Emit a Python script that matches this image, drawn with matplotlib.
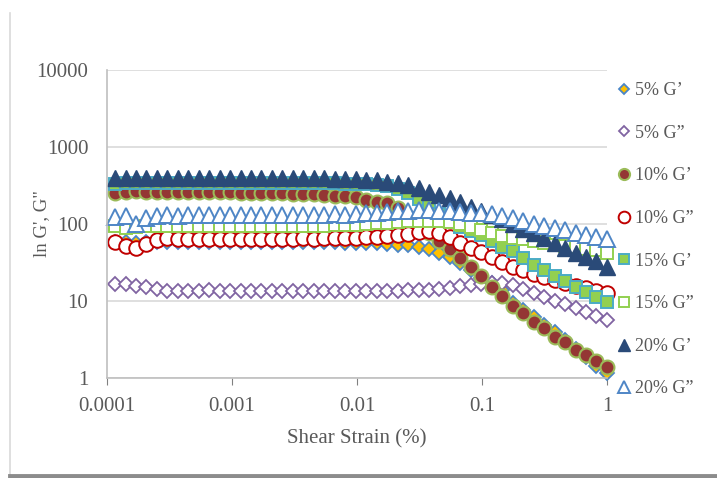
import matplotlib
matplotlib.use("Agg")
import matplotlib.pyplot as plt
from matplotlib.lines import Line2D

plt.rcParams['font.family'] = ['Liberation Serif', 'DejaVu Serif']

strain = [1.16e-4, 1.41e-4, 1.71e-4, 2.07e-4, 2.51e-4, 3.04e-4, 3.68e-4, 4.47e-4,
          5.42e-4, 6.57e-4, 7.96e-4, 9.66e-4, 1.17e-3, 1.42e-3, 1.72e-3, 2.09e-3,
          2.53e-3, 3.07e-3, 3.72e-3, 4.52e-3, 5.48e-3, 6.64e-3, 8.05e-3, 9.77e-3,
          0.0119, 0.0144, 0.0174, 0.0211, 0.0256, 0.0311, 0.0377, 0.0457,
          0.0554, 0.0672, 0.0815, 0.0988, 0.120, 0.145, 0.176, 0.214,
          0.259, 0.314, 0.381, 0.462, 0.560, 0.679, 0.824, 1.0]

g5_p = [58, 59, 57, 58, 59, 58, 58, 59, 58, 58, 59, 58, 58, 58, 58, 58,
        58, 58, 58, 58, 58, 58, 57, 57, 57, 56, 55, 54, 53, 50, 47, 42,
        37, 31, 25, 20, 17, 14, 9.5, 7.6, 6.2, 4.9, 3.9, 3.1, 2.4, 1.9, 1.45, 1.15]

g5_pp = [16.5, 16.8, 15.8, 15.0, 14.2, 13.6, 13.4, 13.6, 13.5, 13.7, 13.5, 13.6, 13.5, 13.6, 13.5, 13.6,
         13.5, 13.6, 13.5, 13.6, 13.5, 13.6, 13.5, 13.6, 13.5, 13.6, 13.5, 13.6, 13.7, 13.8, 14.0, 14.3,
         14.8, 15.5, 16.2, 16.8, 17.2, 17.0, 16.0, 14.3, 12.7, 11.2, 10.1, 9.1, 8.2, 7.3, 6.4, 5.7]

g10_p = [255, 262, 265, 262, 260, 263, 262, 260, 262, 258, 260, 257, 255, 255, 253, 250,
         250, 248, 245, 242, 238, 233, 228, 222, 205, 193, 185, 160, 125, 98, 76, 60,
         47, 36, 28, 21, 15, 11.5, 8.6, 7.0, 5.4, 4.4, 3.4, 2.9, 2.3, 2.0, 1.65, 1.4]

g10_pp = [58, 52, 49, 55, 62, 65, 63, 64, 63, 64, 63, 64, 64, 63, 64, 64,
          64, 64, 65, 64, 65, 65, 65, 66, 67, 68, 70, 72, 75, 78, 80, 76,
          68, 57, 49, 43, 37, 32, 28, 25, 22.5, 20.5, 18.5, 17, 15.7, 14.6, 13.6, 12.8]

g15_p = [330, 340, 342, 338, 340, 342, 340, 341, 340, 342, 340, 341, 340, 340, 339, 340,
         339, 340, 338, 338, 337, 336, 335, 333, 330, 322, 310, 288, 250, 210, 170, 135,
         110, 92, 82, 72, 60, 51, 44, 36, 29, 25, 21, 18, 15.3, 13.2, 11.4, 9.8]

g15_pp = [95, 90, 92, 93, 94, 94, 93, 94, 94, 93, 94, 94, 94, 94, 94, 94,
          94, 94, 95, 95, 95, 96, 97, 98, 100, 102, 104, 106, 108, 110, 110, 108,
          105, 100, 92, 84, 76, 70, 66, 63, 60, 57, 54, 52, 50, 48, 46, 42]

g20_p = [395, 392, 395, 390, 394, 396, 392, 395, 393, 396, 394, 392, 395, 393, 392, 394,
         392, 391, 392, 390, 391, 389, 388, 385, 378, 368, 355, 340, 320, 295, 262, 238,
         215, 192, 168, 148, 132, 115, 100, 87, 76, 66, 57, 49, 42, 37, 33, 28]

g20_pp = [122, 128, 100, 120, 126, 130, 128, 131, 129, 132, 130, 129, 131, 130, 132, 130,
          131, 132, 130, 132, 131, 133, 132, 135, 138, 141, 144, 147, 149, 150, 150, 149,
          147, 144, 141, 137, 133, 128, 118, 109, 101, 94, 88, 83, 77, 72, 67, 63]

labels = ["5% G\u2019", "5% G\u201d", "10% G\u2019", "10% G\u201d",
          "15% G\u2019", "15% G\u201d", "20% G\u2019", "20% G\u201d"]
series = [g5_p, g5_pp, g10_p, g10_pp, g15_p, g15_pp, g20_p, g20_pp]

styles = [
    dict(marker='D', ms=7.0, mfc='#FFC000', mec='#4A86C8', mew=1.3),
    dict(marker='D', ms=7.0, mfc='white', mec='#8064A2', mew=1.3),
    dict(marker='o', ms=10.0, mfc='#943634', mec='#9BBB59', mew=1.5),
    dict(marker='o', ms=10.5, mfc='white', mec='#C00000', mew=1.4),
    dict(marker='s', ms=9.3, mfc='#92D050', mec='#4BACC6', mew=1.4),
    dict(marker='s', ms=9.3, mfc='white', mec='#92D050', mew=1.4),
    dict(marker='^', ms=11, mfc='#2A4A78', mec='#2A4A78', mew=1.0),
    dict(marker='^', ms=11, mfc='white', mec='#4F86C6', mew=1.4),
]

fig = plt.figure(figsize=(7.17, 4.78), dpi=100)
ax = fig.add_axes([107/717, 1 - 378/478, 500/717, 308/478])

for lab, ys, st in zip(labels, series, styles):
    ax.plot(strain, ys, linestyle='none', label=lab, clip_on=False, **st)

ax.set_xscale('log')
ax.set_yscale('log')
ax.set_xlim(1e-4, 1)
ax.set_ylim(1, 10000)
ax.set_xticks([1e-4, 1e-3, 1e-2, 1e-1, 1])
ax.set_xticklabels(['0.0001', '0.001', '0.01', '0.1', '1'])
ax.set_yticks([1, 10, 100, 1000, 10000])
ax.set_yticklabels(['1', '10', '100', '1000', '10000'])
ax.minorticks_off()
ax.grid(axis='y', color='#D9D9D9', linewidth=1.2)
ax.set_axisbelow(True)
for s in ['top', 'right']:
    ax.spines[s].set_visible(False)
ax.spines['left'].set_color('#BFBFBF')
ax.spines['bottom'].set_color('#BFBFBF')
ax.spines['left'].set_linewidth(1.2)
ax.spines['bottom'].set_linewidth(1.2)
ax.tick_params(axis='y', length=0, pad=13.5, labelsize=15, labelcolor='#595959')
ax.tick_params(axis='x', length=5, color='#808080', pad=9, labelsize=15, labelcolor='#595959')

ax.set_xlabel('Shear Strain (%)', fontsize=15, color='#595959', labelpad=9)
ax.set_ylabel('ln G\', G"', fontsize=13.5, color='#595959')
ax.yaxis.set_label_coords(-0.114, 0.5)

fig.legend(loc='upper left', bbox_to_anchor=(617/717, 1 - 82/478), frameon=False,
           fontsize=13, labelspacing=1.42, handlelength=0.8, handletextpad=0.2,
           markerscale=0.8, numpoints=1, borderpad=0, borderaxespad=0,
           labelcolor='#595959')

# outer frame of the chart area
fig.add_artist(Line2D([10/717, 10/717], [0, 1 - 13/478], transform=fig.transFigure,
                      color='#D9D9D9', linewidth=1.2))
fig.add_artist(Line2D([10/717, 1], [2/478, 2/478], transform=fig.transFigure,
                      color='#8C8C8C', linewidth=3.5))

fig.savefig('out.png', dpi=100)
